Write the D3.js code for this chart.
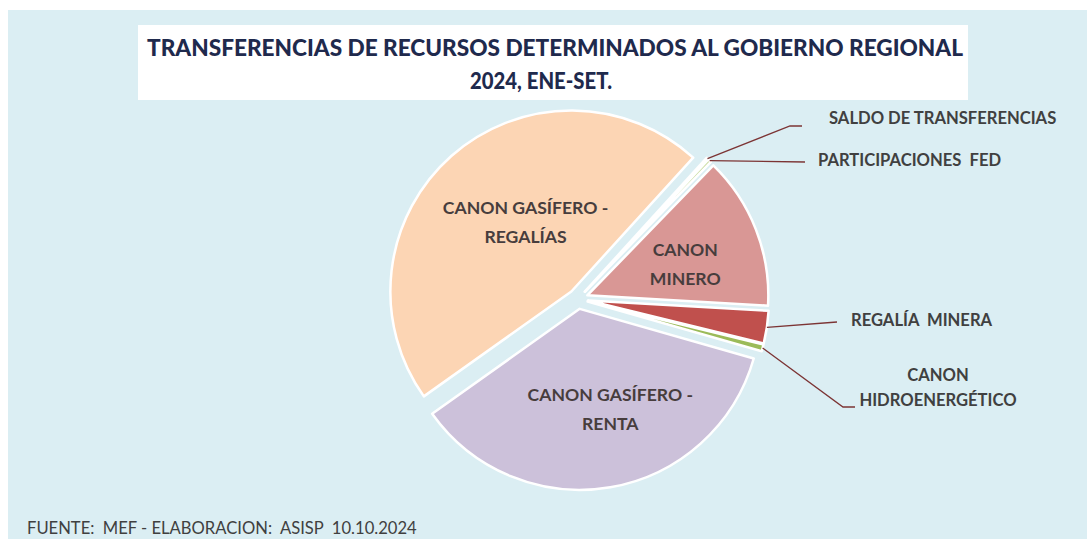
<!DOCTYPE html>
<html lang="es">
<head>
<meta charset="utf-8">
<title>Transferencias de recursos determinados</title>
<script src="https://cdn.jsdelivr.net/npm/d3@7"></script>
<style>
  body { margin: 0; background: #ffffff; }
  svg { display: block; font-family: Lato, "Open Sans", sans-serif; }
  .slice-label { font-size: 17.6px; font-weight: 700; fill: #473d3d; text-anchor: middle; }
  .out-label { font-size: 16.6px; font-weight: 700; fill: #404040; }
</style>
</head>
<body>
<script>
// data (shares in %), clockwise order
var categories = ["CANON GASÍFERO - REGALÍAS", "SALDO DE TRANSFERENCIAS", "PARTICIPACIONES  FED",
                  "CANON MINERO", "REGALÍA  MINERA", "CANON HIDROENERGÉTICO", "CANON GASÍFERO - RENTA"];
var shares = [46.4, 0.2, 0.3, 13.6, 2.9, 0.6, 35.6];
var colors = ["#fcd5b4", "#f5e7a1", "#c9dc9f", "#d99795", "#c0504d", "#9bbb59", "#ccc1da"];
// labels drawn inside the slice (lines) vs. outside with a leader
var insideLabels = {
  "CANON GASÍFERO - REGALÍAS": ["CANON GASÍFERO -", "REGALÍAS"],
  "CANON MINERO": ["CANON", "MINERO"],
  "CANON GASÍFERO - RENTA": ["CANON GASÍFERO -", "RENTA"]
};
var outsideLabels = {
  "SALDO DE TRANSFERENCIAS": ["SALDO DE TRANSFERENCIAS"],
  "PARTICIPACIONES  FED": ["PARTICIPACIONES  FED"],
  "REGALÍA  MINERA": ["REGALÍA  MINERA"],
  "CANON HIDROENERGÉTICO": ["CANON", "HIDROENERGÉTICO"]
};

var W = 1087, H = 539;
var cx = 578, cy = 299, R = 181, explode = 10;
var start = 234.6 * Math.PI / 180;

var svg = d3.select("body").append("svg")
  .attr("width", W).attr("height", H);

// background panel
svg.append("rect").attr("x", 8).attr("y", 10)
  .attr("width", W - 8).attr("height", H - 10)
  .attr("fill", "#dbeef3");

// title box
svg.append("rect").attr("x", 138).attr("y", 25)
  .attr("width", 830).attr("height", 75).attr("fill", "#ffffff");
svg.append("text").attr("x", 555).attr("y", 56)
  .attr("text-anchor", "middle")
  .attr("textLength", 816).attr("lengthAdjust", "spacingAndGlyphs")
  .style("font-size", "23.5px").style("font-weight", 900).style("fill", "#1f2a4d")
  .text("TRANSFERENCIAS DE RECURSOS DETERMINADOS AL GOBIERNO REGIONAL");
svg.append("text").attr("x", 541).attr("y", 89)
  .attr("text-anchor", "middle")
  .attr("textLength", 142).attr("lengthAdjust", "spacingAndGlyphs")
  .style("font-size", "23.5px").style("font-weight", 900).style("fill", "#1f2a4d")
  .text("2024, ENE-SET.");

var pie = d3.pie().sort(null).value(function(d) { return d.v; })
  .startAngle(start).endAngle(start + 2 * Math.PI);
var rows = categories.map(function(c, i) { return { name: c, v: shares[i], color: colors[i] }; });
var arcs = pie(rows);

var arc = d3.arc().innerRadius(0).outerRadius(R);
var labelArc = d3.arc().innerRadius(R * 0.64).outerRadius(R * 0.64);

function mid(d) { return (d.startAngle + d.endAngle) / 2; }
function shift(d, dist) {
  var a = mid(d);
  return [Math.sin(a) * dist, -Math.cos(a) * dist];
}

var g = svg.append("g").attr("transform", "translate(" + cx + "," + cy + ")");

g.selectAll("path.slice").data(arcs).enter().append("path")
  .attr("class", "slice")
  .attr("d", arc)
  .attr("transform", function(d) { var s = shift(d, explode); return "translate(" + s[0] + "," + s[1] + ")"; })
  .attr("fill", function(d) { return d.data.color; })
  .attr("stroke", "#ffffff").attr("stroke-width", 2.5)
  .attr("stroke-linejoin", "round");

// inside labels, nudged from the centroid like the hand-placed originals
var nudge = {
  "CANON GASÍFERO - REGALÍAS": [31, 18],
  "CANON MINERO": [-10, 11],
  "CANON GASÍFERO - RENTA": [11, -14]
};
arcs.filter(function(d) { return insideLabels[d.data.name]; }).forEach(function(d) {
  var c = labelArc.centroid(d), s = shift(d, explode), n = nudge[d.data.name];
  var lines = insideLabels[d.data.name];
  var t = g.append("text").attr("class", "slice-label");
  lines.forEach(function(line, i) {
    t.append("tspan").attr("x", c[0] + s[0] + n[0])
      .attr("y", c[1] + s[1] + n[1] + (i - (lines.length - 1) / 2) * 29 + 6)
      .text(line);
  });
});

// outside callouts: leader path (absolute coords) and label placement
var callout = {
  "SALDO DE TRANSFERENCIAS": { bend: [[790, 126], [802, 126]], x: 829, y: 124, anchor: "start" },
  "PARTICIPACIONES  FED": { bend: [[805, 162]], x: 818, y: 166, anchor: "start" },
  "REGALÍA  MINERA": { bend: [[837, 322]], x: 851, y: 326, anchor: "start" },
  "CANON HIDROENERGÉTICO": { bend: [[843, 407], [855, 407]], x: 938, y: 381, anchor: "middle" }
};

var line = d3.line();
arcs.filter(function(d) { return outsideLabels[d.data.name]; }).forEach(function(d) {
  var s = shift(d, R + explode);
  var p0 = [cx + s[0], cy + s[1]];
  var co = callout[d.data.name];
  svg.append("path").attr("d", line([p0].concat(co.bend)))
    .attr("fill", "none").attr("stroke", "#7c3434").attr("stroke-width", 1.3);
  var t = svg.append("text").attr("class", "out-label").attr("text-anchor", co.anchor);
  outsideLabels[d.data.name].forEach(function(l, i) {
    t.append("tspan").attr("x", co.x).attr("y", co.y + i * 25)
      .style("white-space", "pre").text(l);
  });
});

// source note
svg.append("text").attr("x", 27).attr("y", 534)
  .style("font-size", "16.6px").style("fill", "#404040").style("white-space", "pre")
  .text("FUENTE:  MEF - ELABORACION:  ASISP  10.10.2024");
</script>
</body>
</html>
